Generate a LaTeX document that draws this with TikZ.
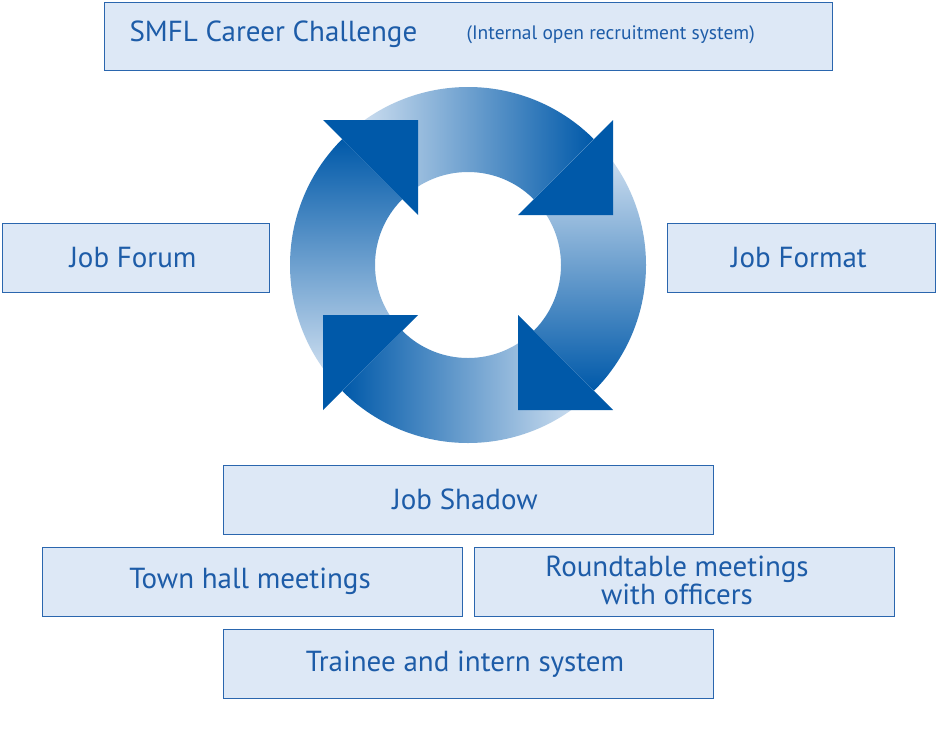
\documentclass[tikz,border=0pt]{standalone}
\usepackage{fontspec}
\setmainfont{PT Sans}
\definecolor{boxfill}{HTML}{DDE8F6}
\definecolor{boxline}{HTML}{2A66AE}
\definecolor{txt}{HTML}{1D5CA8}
\definecolor{ringdark}{HTML}{0059A9}
\definecolor{ringlight}{HTML}{DCE8F5}
\tikzset{
  lbox/.style={draw=boxline, line width=0.9pt, fill=boxfill},
  lbl/.style={text=txt, font=\fontsize{29}{31}\selectfont, align=center},
}
\begin{document}
\begin{tikzpicture}[x=1pt,y=-1pt]
\useasboundingbox[fill=white] (0,0) rectangle (936,750);
% boxes
\draw[lbox] (104,2) rectangle (832,70);
\node[lbl, anchor=west] (smfl) at (126,34) {SMFL Career Challenge};
\node[text=txt, font=\fontsize{19.5}{21}\selectfont, anchor=west] (smflsub) at (463,35) {(Internal open recruitment system)};
\draw[lbox] (2,223) rectangle (269,292);
\node[lbl] (forum) at (133,258) {Job Forum};
\draw[lbox] (667,223) rectangle (935,292);
\node[lbl] (format) at (799,258) {Job Format};
\draw[lbox] (223,465) rectangle (713,534);
\node[lbl] (shadow) at (465,499) {Job Shadow};
\draw[lbox] (42,547) rectangle (462,616);
\node[lbl] (town) at (250,581) {Town hall meetings};
\draw[lbox] (474,547) rectangle (894,616);
\node[lbl, font=\fontsize{29}{28}\selectfont] (round) at (677,580) {Roundtable meetings\\with officers};
\draw[lbox] (223,629) rectangle (713,698);
\node[lbl] (trainee) at (465,664) {Trainee and intern system};
% ring
\begin{scope}[shift={(468,265)}, y=1pt, x=1pt]
  \shade[left color=ringlight, right color=ringdark] (135:178) arc[start angle=135, end angle=45, radius=178] -- (45:93) arc[start angle=45, end angle=135, radius=93] -- cycle;
  \shade[top color=ringlight, bottom color=ringdark] (45:178) arc[start angle=45, end angle=-45, radius=178] -- (-45:93) arc[start angle=-45, end angle=45, radius=93] -- cycle;
  \shade[right color=ringlight, left color=ringdark] (-45:178) arc[start angle=-45, end angle=-135, radius=178] -- (-135:93) arc[start angle=-135, end angle=-45, radius=93] -- cycle;
  \shade[bottom color=ringlight, top color=ringdark] (-135:178) arc[start angle=-135, end angle=-225, radius=178] -- (135:93) arc[start angle=135, end angle=225, radius=93] -- cycle;
  \foreach \r in {0,-90,-180,-270}{
    \fill[ringdark, rotate=\r] (-145,145) -- (-50,50) -- (-50,145) -- cycle;
  }
\end{scope}
\end{tikzpicture}
\end{document}
